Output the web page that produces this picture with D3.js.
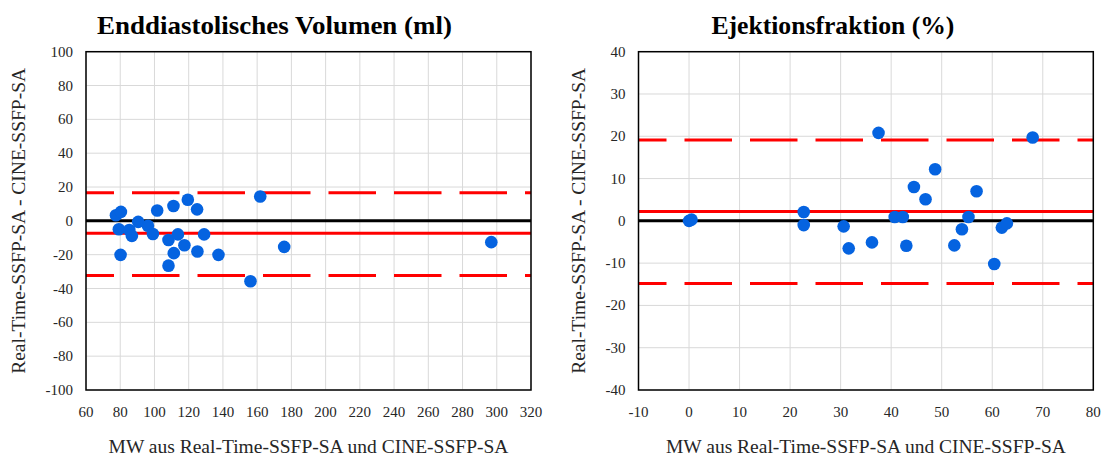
<!doctype html>
<html>
<head>
<meta charset="utf-8">
<style>
body { margin:0; background:#fff; }
svg text { font-family: "Liberation Serif", "DejaVu Serif", serif; fill:#262626; }
</style>
<script src="https://d3js.org/d3.v7.min.js"></script>
</head>
<body>
<script>

// --- EDV panel (ml) ---
var edvMean = [77.5, 80.4, 79.2, 80.2, 85.3, 86.8, 90.5, 96.2, 99.1, 101.6, 108.2, 111.1, 113.7,
               111.3, 108.2, 117.5, 119.5, 124.9, 125.1, 129.0, 137.4, 156.1, 161.8, 175.8, 296.8];
var edvDiff = [3.3, 5.3, -5.0, -20.1, -5.4, -8.9, -0.6, -2.9, -7.8, 6.1, -11.3, 8.8, -8.0,
               -19.1, -26.5, -14.4, 12.5, 6.8, -18.1, -8.0, -20.1, -35.7, 14.4, -15.4, -12.6];
var edvBias = -7.4, edvUpper = 16.6, edvLower = -32.3;
var edvXTicks = [60, 80, 100, 120, 140, 160, 180, 200, 220, 240, 260, 280, 300, 320];
var edvYTicks = [-100, -80, -60, -40, -20, 0, 20, 40, 60, 80, 100];

// --- EF panel (%) ---
var efMean = [0.0, 0.5, 37.5, 22.7, 22.7, 30.6, 31.6, 36.2, 40.7, 42.3, 43.0, 44.5, 46.8,
              48.7, 52.5, 54.0, 55.3, 56.9, 60.4, 61.9, 62.9, 68.0];
var efDiff = [0.0, 0.3, 20.8, 2.1, -1.0, -1.3, -6.5, -5.1, 0.9, 0.9, -5.9, 8.0, 5.1,
              12.2, -5.8, -2.0, 0.9, 7.0, -10.2, -1.6, -0.6, 19.7];
var efBias = 2.2, efUpper = 19.1, efLower = -14.8;
var efXTicks = [-10, 0, 10, 20, 30, 40, 50, 60, 70, 80];
var efYTicks = [-40, -30, -20, -10, 0, 10, 20, 30, 40];

var xTitle = "MW aus Real-Time-SSFP-SA und CINE-SSFP-SA";
var yTitle = "Real-Time-SSFP-SA - CINE-SSFP-SA";

var svg = d3.select("body").append("svg")
    .attr("width", 1103).attr("height", 458);

var panels = [
  { title: "Enddiastolisches Volumen (ml)", x0: 86, x1: 531, ax: 18, tOff: -34, tLen: 355,
    mx: edvMean, dy: edvDiff, bias: edvBias, up: edvUpper, lo: edvLower,
    xt: edvXTicks, yt: edvYTicks },
  { title: "Ejektionsfraktion (%)", x0: 638.5, x1: 1093.3, ax: 578, tOff: -33, tLen: 243,
    mx: efMean, dy: efDiff, bias: efBias, up: efUpper, lo: efLower,
    xt: efXTicks, yt: efYTicks }
];
var plotTop = 51.7, plotBottom = 390;

panels.forEach(function(p) {
  var x = d3.scaleLinear().domain(d3.extent(p.xt)).range([p.x0, p.x1]);
  var y = d3.scaleLinear().domain(d3.extent(p.yt)).range([plotBottom, plotTop]);
  var g = svg.append("g");

  // grid
  g.selectAll(".vg").data(p.xt).enter().append("line")
    .attr("x1", x).attr("x2", x).attr("y1", plotTop).attr("y2", plotBottom)
    .attr("stroke", "#d9d9d9").attr("stroke-width", 1);
  g.selectAll(".hg").data(p.yt).enter().append("line")
    .attr("y1", y).attr("y2", y).attr("x1", p.x0).attr("x2", p.x1)
    .attr("stroke", "#d9d9d9").attr("stroke-width", 1);

  // limits of agreement
  [p.up, p.lo].forEach(function(v) {
    g.append("line")
      .attr("x1", p.x0).attr("x2", p.x1).attr("y1", y(v)).attr("y2", y(v))
      .attr("stroke", "#ff0000").attr("stroke-width", 3)
      .attr("stroke-dasharray", "47.5,18").attr("stroke-dashoffset", 19.5);
  });
  // zero line
  g.append("line")
    .attr("x1", p.x0).attr("x2", p.x1).attr("y1", y(0)).attr("y2", y(0))
    .attr("stroke", "#000").attr("stroke-width", 3);
  // bias
  g.append("line")
    .attr("x1", p.x0).attr("x2", p.x1).attr("y1", y(p.bias)).attr("y2", y(p.bias))
    .attr("stroke", "#ff0000").attr("stroke-width", 3);

  // points
  g.selectAll("circle").data(p.mx).enter().append("circle")
    .attr("cx", function(d) { return x(d); })
    .attr("cy", function(d, i) { return y(p.dy[i]); })
    .attr("r", 6.3).attr("fill", "#0563e0");

  // frame
  g.append("rect")
    .attr("x", p.x0).attr("y", plotTop).attr("width", p.x1 - p.x0).attr("height", plotBottom - plotTop)
    .attr("fill", "none").attr("stroke", "#000").attr("stroke-width", 1.5);

  // tick labels
  g.selectAll(".yl").data(p.yt).enter().append("text")
    .attr("x", p.x0 - 13).attr("y", function(d) { return y(d) + 5; })
    .attr("text-anchor", "end").attr("font-size", 15)
    .text(function(d) { return d; });
  g.selectAll(".xl").data(p.xt).enter().append("text")
    .attr("x", x).attr("y", 417)
    .attr("text-anchor", "middle").attr("font-size", 15)
    .text(function(d) { return d; });

  // titles
  g.append("text")
    .attr("x", (p.x0 + p.x1) / 2 + p.tOff).attr("y", 34)
    .attr("text-anchor", "middle").attr("font-size", 26).attr("font-weight", "bold")
    .attr("textLength", p.tLen).attr("lengthAdjust", "spacingAndGlyphs")
    .style("fill", "#000")
    .text(p.title);
  g.append("text")
    .attr("x", (p.x0 + p.x1) / 2).attr("y", 453)
    .attr("text-anchor", "middle").attr("font-size", 19.5)
    .text(xTitle);
  g.append("text")
    .attr("transform", "translate(" + (p.ax + 7) + "," + ((plotTop + plotBottom) / 2) + ") rotate(-90)")
    .attr("text-anchor", "middle").attr("font-size", 19.5)
    .text(yTitle);
});

</script>
</body>
</html>
